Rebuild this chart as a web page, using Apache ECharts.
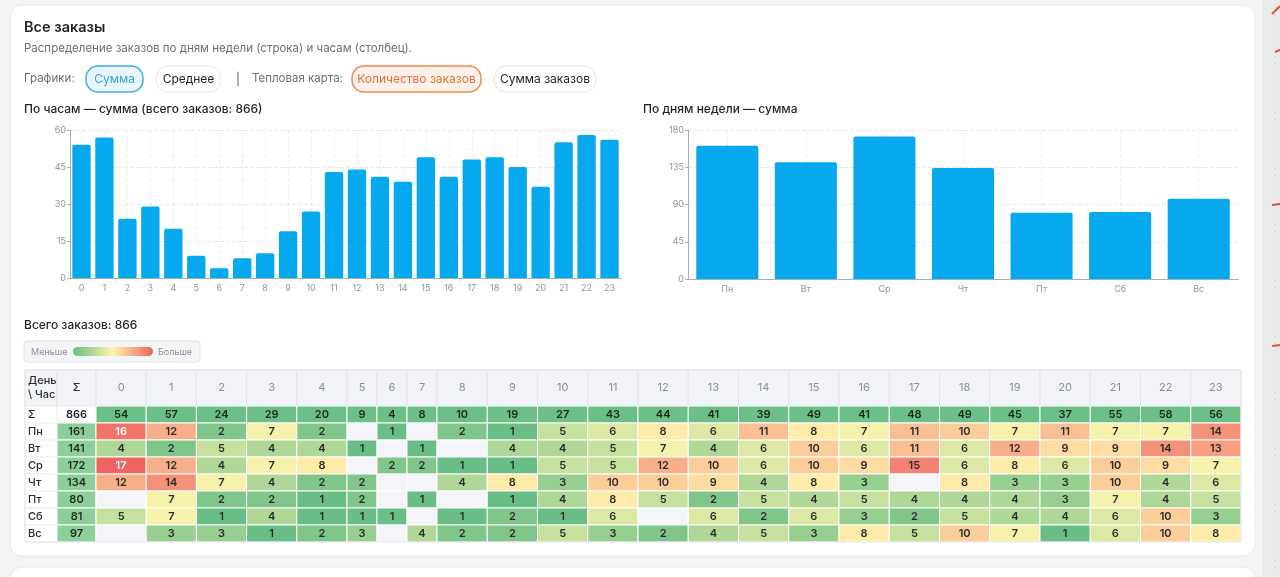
<!DOCTYPE html>
<html><head><meta charset="utf-8">
<script src="https://cdn.jsdelivr.net/npm/echarts@6/dist/echarts.min.js"></script>
<style>html,body{margin:0;padding:0;background:#f3f4f6;overflow:hidden}#c{width:1280px;height:577px}</style>
</head><body><div id="c"></div>
<script>
// ---------- DATA ----------
const hours = ['0','1','2','3','4','5','6','7','8','9','10','11','12','13','14','15','16','17','18','19','20','21','22','23'];
const days = ['Пн','Вт','Ср','Чт','Пт','Сб','Вс'];
const hourTotals = [54,57,24,29,20,9,4,8,10,19,27,43,44,41,39,49,41,48,49,45,37,55,58,56];
const dayTotals = [161,141,172,134,80,81,97];
const grandTotal = 866;
const yTicksHours = [0,15,30,45,60];
const yTicksDays = [0,45,90,135,180];
const rowMon = [16,12,2,7,2,null,1,null,2,1,5,6,8,6,11,8,7,11,10,7,11,7,7,14];
const rowTue = [4,2,5,4,4,1,null,1,null,4,4,5,7,4,6,10,6,11,6,12,9,9,14,13];
const rowWed = [17,12,4,7,8,null,2,2,1,1,5,5,12,10,6,10,9,15,6,8,6,10,9,7];
const rowThu = [12,14,7,4,2,2,null,null,4,8,3,10,10,9,4,8,3,null,8,3,3,10,4,6];
const rowFri = [null,7,2,2,1,2,null,1,null,1,4,8,5,2,5,4,5,4,4,4,3,7,4,5];
const rowSat = [5,7,1,4,1,1,1,null,1,2,1,6,null,6,2,6,3,2,5,4,4,6,10,3];
const rowSun = [null,3,3,1,2,3,null,4,2,2,5,3,2,4,5,3,8,5,10,7,1,6,10,8];
const matrix = [rowMon,rowTue,rowWed,rowThu,rowFri,rowSat,rowSun];

// ---------- STYLE ----------
const FONT = 'Inter, "Noto Sans", sans-serif';
const BAR = '#06a8ee';
const C_GREEN = [104,190,132], C_YEL = [255,244,174], C_RED = [239,100,97];
const flat = matrix.flat().filter(v => v != null);
const vMin = Math.min(...flat), vMax = Math.max(...flat);
function mix(a,b,u){return 'rgb('+a.map((x,i)=>Math.round(x+(b[i]-x)*u)).join(',')+')';}
function heatT(v){return (v-vMin)/(vMax-vMin);}
function heatColor(v){
  const t = heatT(v), m = 0.4;
  return t <= m ? mix(C_GREEN,C_YEL,t/m) : mix(C_YEL,C_RED,(t-m)/(1-m));
}

const chart = echarts.init(document.getElementById('c'));

// ---------- TABLE LAYOUT ----------
const rowLabels = ['Σ'].concat(days);
const tableGroups = [
  {left:25, width:32, kind:'label', cols:['label']},
  {left:57, width:39, kind:'sum', cols:['Σ']},
  {left:96, width:251, kind:'hours', cols:hours.slice(0,5), start:0},
  {left:347, width:90, kind:'hours', cols:hours.slice(5,8), start:5},
  {left:437, width:804, kind:'hours', cols:hours.slice(8), start:8}
];
const HEAD_TOP = 370, HEAD_H = 36, BODY_TOP = 406, BODY_H = 136;

const grids = [], xAxes = [], yAxes = [], series = [];

function cellRender(cells){
  return function(params, api){
    const cell = cells[params.dataIndex];
    const c = api.coord([api.value(0), api.value(1)]);
    const s = api.size([1,1]);
    const x0 = c[0]-s[0]/2, y0 = c[1]-s[1]/2;
    const left = cell.align === 'left';
    return {type:'group', children:[
      {type:'rect', shape:{x:x0, y:y0, width:s[0], height:s[1]},
       style:{fill:cell.fill, stroke:cell.stroke, lineWidth:1}},
      {type:'text', style:{text:cell.text, x:left ? x0+3 : c[0], y:c[1],
        align:left?'left':'center', verticalAlign:'middle', fill:cell.color,
        font:cell.font, lineHeight:cell.lineHeight || 13}}
    ]};
  };
}

tableGroups.forEach((g, gi) => {
  const hg = grids.length;
  grids.push({left:g.left, top:HEAD_TOP, width:g.width, height:HEAD_H});
  grids.push({left:g.left, top:BODY_TOP, width:g.width, height:BODY_H});
  xAxes.push({type:'category', gridIndex:hg, data:g.cols, show:false});
  xAxes.push({type:'category', gridIndex:hg+1, data:g.cols, show:false});
  yAxes.push({type:'category', gridIndex:hg, data:['h'], show:false});
  yAxes.push({type:'category', gridIndex:hg+1, data:rowLabels, inverse:true, show:false});

  // header
  const hcells = g.cols.map((c, i) => {
    if (g.kind === 'label') return {x:i, text:'День\n\\ Час', align:'left', color:'#2a2d33', font:'500 11px '+FONT, lineHeight:14};
    if (g.kind === 'sum') return {x:i, text:'Σ', color:'#2a2d33', font:'500 11px '+FONT};
    return {x:i, text:c, color:'#8d9099', font:'400 11px '+FONT};
  }).map(o => Object.assign({fill:'#f2f3f6', stroke:'#e3e5ea'}, o));
  series.push({type:'custom', xAxisIndex:hg, yAxisIndex:hg, silent:true,
    data:hcells.map(o=>[o.x,0]), renderItem:cellRender(hcells)});

  // body
  const bcells = [];
  g.cols.forEach((c, i) => {
    rowLabels.forEach((r, ri) => {
      let cell;
      if (g.kind === 'label') {
        cell = {text:r, align:'left', fill:'#ffffff', stroke:'#eceef2', color:'#2a2d33', font:'500 11px '+FONT};
      } else if (g.kind === 'sum') {
        cell = ri === 0
          ? {text:String(grandTotal), fill:'#ffffff', stroke:'#eceef2', color:'#1f2328', font:'600 11px '+FONT}
          : {text:String(dayTotals[ri-1]), fill:'#8ccf98', stroke:'#ffffff', color:'#1f2a22', font:'600 11px '+FONT};
      } else {
        const h = g.start + i;
        if (ri === 0) {
          cell = {text:String(hourTotals[h]), fill:'#6cbf86', stroke:'#ffffff', color:'#1b2a20', font:'600 11px '+FONT};
        } else {
          const v = matrix[ri-1][h];
          if (v == null) cell = {text:'', fill:'#f3f5f9', stroke:'#ffffff', color:'#000', font:'11px '+FONT};
          else cell = {text:String(v), fill:heatColor(v), stroke:'#ffffff',
                       color: heatT(v) >= 0.9 ? '#ffffff' : '#2a2d2a', font:'600 11px '+FONT};
        }
      }
      cell.x = i; cell.y = ri;
      bcells.push(cell);
    });
  });
  series.push({type:'custom', xAxisIndex:hg+1, yAxisIndex:hg+1, silent:true,
    data:bcells.map(o=>[o.x,o.y]), renderItem:cellRender(bcells)});
});

// ---------- BAR CHARTS ----------
const axisLab = {fontSize:9, color:'#8f939b', fontFamily:FONT};
function barAxes(gridIdx, cats, ticks){
  xAxes.push({type:'category', gridIndex:gridIdx, data:cats,
    axisLine:{lineStyle:{color:'#a9adb4'}}, axisTick:{alignWithLabel:true, lineStyle:{color:'#a9adb4'}},
    axisLabel:Object.assign({margin:6, interval:0}, axisLab),
    splitLine:{show:true, alignWithLabel:true, lineStyle:{type:'dashed', color:'#ececee'}}});
  yAxes.push({type:'value', gridIndex:gridIdx, min:ticks[0], max:ticks[ticks.length-1], interval:ticks[1]-ticks[0],
    axisLine:{show:true, lineStyle:{color:'#a9adb4'}}, axisTick:{show:true, length:3, lineStyle:{color:'#a9adb4'}},
    axisLabel:Object.assign({margin:4}, axisLab),
    splitLine:{show:true, lineStyle:{type:'dashed', color:'#e6e7ea'}}});
}
const g1 = grids.length;
grids.push({left:70, top:130, width:551, height:148});
barAxes(g1, hours, yTicksHours);
series.push({type:'bar', xAxisIndex:xAxes.length-1, yAxisIndex:yAxes.length-1, data:hourTotals,
  barCategoryGap:'20%', itemStyle:{color:BAR, borderRadius:[2,2,0,0]}, silent:true});
const g2 = grids.length;
grids.push({left:688, top:130, width:550, height:149});
barAxes(g2, days, yTicksDays);
series.push({type:'bar', xAxisIndex:xAxes.length-1, yAxisIndex:yAxes.length-1, data:dayTotals,
  barCategoryGap:'21%', itemStyle:{color:BAR, borderRadius:[2,2,0,0]}, silent:true});

// ---------- GRAPHIC (card, texts, buttons, legend) ----------
function txt(x,y,text,font,fill,extra){return Object.assign({type:'text', x:x, y:y, style:{text:text, font:font, fill:fill, verticalAlign:'middle'}}, extra||{});}
function btn(x,y,w,h,label,o){
  return {type:'group', x:x, y:y, children:[
    {type:'rect', shape:{x:0,y:0,width:w,height:h,r:h/2-1}, style:{fill:o.fill, stroke:o.stroke, lineWidth:o.lw||1}},
    {type:'text', x:w/2, y:h/2, style:{text:label, font:'400 12px '+FONT, fill:o.color, align:'center', verticalAlign:'middle'}}
  ]};
}
const graphic = [
  {type:'rect', z:-10, shape:{x:10,y:5,width:1245,height:551,r:12}, style:{fill:'#ffffff', stroke:'#e6e7ea', lineWidth:1}},
  {type:'rect', z:-10, shape:{x:10,y:567,width:1245,height:40,r:12}, style:{fill:'#ffffff', stroke:'#e6e7ea', lineWidth:1}},
  {type:'rect', z:-10, shape:{x:1262,y:0,width:18,height:577}, style:{fill:'#ebebec'}},
  {type:'line', shape:{x1:1275,y1:0,x2:1275,y2:577}, style:{stroke:'#c9c9cb', lineWidth:1, lineDash:[1,6]}},
  {type:'line', shape:{x1:1272,y1:14,x2:1280,y2:6}, style:{stroke:'#e0522e', lineWidth:2}},
  {type:'line', shape:{x1:1275,y1:52,x2:1280,y2:50}, style:{stroke:'#e0522e', lineWidth:2}},
  {type:'line', shape:{x1:1272,y1:205,x2:1280,y2:204}, style:{stroke:'#e0522e', lineWidth:2}},
  {type:'line', shape:{x1:1272,y1:346,x2:1280,y2:345}, style:{stroke:'#e0522e', lineWidth:2}},
  txt(24,28,'Все заказы','600 14.5px '+FONT,'#1f2328'),
  txt(24,49,'Распределение заказов по дням недели (строка) и часам (столбец).','400 11.5px '+FONT,'#6b6f76'),
  txt(24,79,'Графики:','400 11.5px '+FONT,'#6b6f76'),
  btn(86,66,57,26,'Сумма',{fill:'#e9f7fd', stroke:'#3db0e2', lw:1.5, color:'#36a2d6'}),
  btn(156,66,65,26,'Среднее',{fill:'#ffffff', stroke:'#dfe1e5', color:'#23262b'}),
  txt(236,79,'|','400 12px '+FONT,'#555'),
  txt(252,79,'Тепловая карта:','400 11.5px '+FONT,'#6b6f76'),
  btn(352,66,129,26,'Количество заказов',{fill:'#fdf1ea', stroke:'#ee8a4e', lw:1.5, color:'#e5733a'}),
  btn(494,66,102,26,'Сумма заказов',{fill:'#ffffff', stroke:'#dfe1e5', color:'#23262b'}),
  txt(24,109,'По часам — сумма (всего заказов: '+grandTotal+')','500 12px '+FONT,'#1f2328'),
  txt(643,109,'По дням недели — сумма','500 12px '+FONT,'#1f2328'),
  txt(24,325,'Всего заказов: '+grandTotal,'500 12px '+FONT,'#1f2328'),
  {type:'rect', shape:{x:24,y:341,width:176,height:21,r:3}, style:{fill:'#f4f5f7', stroke:'#e2e4e8', lineWidth:1}},
  txt(31,352,'Меньше','400 9px '+FONT,'#8a8e96'),
  {type:'rect', shape:{x:73,y:347,width:80,height:9,r:4.5}, style:{fill:new echarts.graphic.LinearGradient(0,0,1,0,[
    {offset:0,color:'rgb('+C_GREEN.join(',')+')'},{offset:0.5,color:'rgb('+C_YEL.join(',')+')'},{offset:1,color:'rgb('+C_RED.join(',')+')'}])}},
  txt(158,352,'Больше','400 9px '+FONT,'#8a8e96'),
  {type:'rect', z:100, shape:{x:25,y:370,width:1216,height:172}, style:{fill:'none', stroke:'#e3e5ea', lineWidth:1}}
];

chart.setOption({
  animation:false,
  backgroundColor:'#f3f4f6',
  textStyle:{fontFamily:FONT},
  grid:grids, xAxis:xAxes, yAxis:yAxes, series:series, graphic:graphic
});
</script></body></html>
